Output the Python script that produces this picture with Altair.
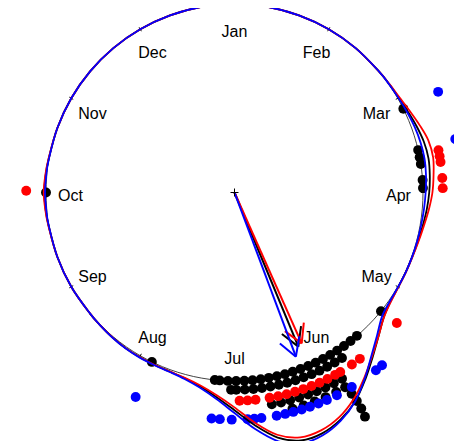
import math
import pandas as pd
import altair as alt

# ---------------- data ----------------
months = ["Jan", "Feb", "Mar", "Apr", "May", "Jun",
          "Jul", "Aug", "Sep", "Oct", "Nov", "Dec"]
month_angle = [0, 30, 60, 90, 120, 150, 180, 210, 240, 270, 300, 330]

# stacked observations: angle (deg, clockwise from top) and stacking radius
black_theta = [63.6, 77.0, 79.2, 81.3, 86.2, 88.6, 129.0,
               139.5, 142.0, 144.5, 147.0, 149.5, 152.0, 154.5, 157.0, 159.5, 162.0,
               164.5, 167.0, 169.5, 172.0, 174.5, 177.0, 179.5, 182.0, 184.5, 186.0,
               206.0, 270.0,
               147.0, 149.5, 152.0, 154.5, 157.0, 159.5, 162.0, 164.5, 167.0, 169.5,
               172.0, 174.5, 177.0, 179.5, 181.0,
               150.0, 152.5, 155.0, 157.5, 160.0, 162.5, 165.0, 167.5, 170.0,
               150.4, 153.0, 156.0, 159.0, 162.0, 165.0,
               149.8, 149.6, 149.6, 149.8]
black_r = [1.0] * 29 + [1.047] * 15 + [1.141] * 9 + [1.188] * 6 + [1.235, 1.282, 1.329, 1.376]

red_theta = [78.3, 80.0, 81.6, 86.0, 88.8, 128.8, 143.0, 145.7, 149.5,
             151.1, 153.5, 155.9, 158.3, 160.7, 163.1, 165.5, 167.9, 170.3,
             174.2, 176.4, 178.6, 270.5]
red_r = [1.105] * len(red_theta)

blue_theta = [63.7, 76.4, 139.5, 141.5, 148.9, 153.2,
              156.0, 158.3, 160.6, 162.8, 165.0, 167.1, 169.3,
              173.2, 175.0, 176.7, 180.7, 183.7, 185.8, 205.8]
blue_r = [1.205] * len(blue_theta)

# density curves (radius = 1 + value)
dens_theta = [0, 10, 20, 30, 40, 50, 55, 60, 65, 70, 75, 80, 85, 90, 95, 100, 105, 110,
              115, 120, 125, 130, 135, 140, 145, 150, 155, 160, 165, 170, 175, 180, 185,
              190, 195, 200, 205, 210, 215, 220, 225, 230, 240, 250, 260, 265, 270, 275,
              280, 290, 300, 310, 320, 330, 340, 350]
dens_black = [0, 0, 0, 0, 0, 0, 0.002, 0.006, 0.015, 0.028, 0.040, 0.045, 0.040, 0.033,
              0.024, 0.014, 0.007, 0.003, 0.002, 0.003, 0.010, 0.033, 0.080, 0.140, 0.210,
              0.280, 0.330, 0.360, 0.362, 0.320, 0.240, 0.155, 0.090, 0.045, 0.020, 0.010,
              0.008, 0.008, 0.008, 0.005, 0.002, 0, 0, 0, 0.002, 0.006, 0.009, 0.006,
              0.002, 0, 0, 0, 0, 0, 0, 0]
dens_red = [0, 0, 0, 0, 0, 0, 0.003, 0.010, 0.025, 0.045, 0.065, 0.070, 0.060, 0.050,
            0.035, 0.020, 0.010, 0.004, 0.003, 0.004, 0.012, 0.034, 0.080, 0.135, 0.200,
            0.265, 0.315, 0.343, 0.345, 0.305, 0.225, 0.140, 0.080, 0.040, 0.018, 0.010,
            0.008, 0.008, 0.008, 0.005, 0.002, 0, 0, 0, 0.003, 0.008, 0.012, 0.008,
            0.003, 0, 0, 0, 0, 0, 0, 0]
dens_blue = [0, 0, 0, 0, 0, 0, 0.001, 0.004, 0.010, 0.017, 0.022, 0.024, 0.020, 0.014,
             0.009, 0.005, 0.003, 0.002, 0.002, 0.002, 0.006, 0.022, 0.070, 0.130, 0.205,
             0.280, 0.335, 0.370, 0.378, 0.340, 0.260, 0.170, 0.100, 0.052, 0.024, 0.012,
             0.010, 0.010, 0.009, 0.006, 0.002, 0, 0, 0, 0.001, 0.003, 0.005, 0.003,
             0.001, 0, 0, 0, 0, 0, 0, 0]

# mean resultant vectors
mean_color = ["black", "red", "blue"]
mean_theta = [157.5, 156.0, 159.5]
mean_rho = [0.885, 0.876, 0.930]

# ---------------- layout ----------------
W, H = 446, 433
R_PX = 188.5
CX_PX = 234.5 - 8
CY_PX = 192.5 - 8
xdom = [-CX_PX / R_PX, (W - CX_PX) / R_PX]
ydom = [-(H - CY_PX) / R_PX, CY_PX / R_PX]


def pol(theta, r):
    a = math.radians(theta)
    return r * math.sin(a), r * math.cos(a)


X = alt.X("x:Q", scale=alt.Scale(domain=xdom, nice=False, zero=False), axis=None)
Y = alt.Y("y:Q", scale=alt.Scale(domain=ydom, nice=False, zero=False), axis=None)
X2 = alt.X2("x2:Q")
Y2 = alt.Y2("y2:Q")

# circle
circ = pd.DataFrame([dict(i=i, x=pol(t, 1.0)[0], y=pol(t, 1.0)[1])
                     for i, t in enumerate(dens_theta)])
circle = alt.Chart(circ).mark_line(interpolate="cardinal-closed", color="#444444",
                                   strokeWidth=1.0).encode(x=X, y=Y, order="i:Q")

# ticks
tk = []
for t in month_angle:
    a = pol(t, 0.988)
    b = pol(t, 1.012)
    tk.append(dict(x=a[0], y=a[1], x2=b[0], y2=b[1]))
ticks = alt.Chart(pd.DataFrame(tk)).mark_rule(color="black", strokeWidth=1.0).encode(
    x=X, y=Y, x2=X2, y2=Y2)

# labels
lab = pd.DataFrame([dict(m=m, x=pol(t, 0.87)[0], y=pol(t, 0.87)[1])
                    for m, t in zip(months, month_angle)])
labels = alt.Chart(lab).mark_text(font="Liberation Sans", fontSize=16, color="black",
                                  align="center", baseline="middle", dy=3).encode(
    x=X, y=Y, text="m:N")

# dots
pts = []
for col, th, rr in (("black", black_theta, black_r), ("red", red_theta, red_r),
                    ("blue", blue_theta, blue_r)):
    for t, r in zip(th, rr):
        x, y = pol(t, r)
        pts.append(dict(x=x, y=y, c=col, k=len(pts)))
dots = alt.Chart(pd.DataFrame(pts)).mark_circle(size=98, opacity=1).encode(
    x=X, y=Y, color=alt.Color("c:N", scale=None), order="k:Q")

# density lines
layers_d = []
for col, d in (("black", dens_black), ("red", dens_red), ("blue", dens_blue)):
    df = pd.DataFrame([dict(i=i, x=pol(t, 1 + v)[0], y=pol(t, 1 + v)[1])
                       for i, (t, v) in enumerate(zip(dens_theta, d))])
    layers_d.append(alt.Chart(df).mark_line(interpolate="cardinal-closed", color=col,
                                            strokeWidth=1.8).encode(x=X, y=Y, order="i:Q"))

# arrows
seg = []
L = 0.11
for col, t, rho in zip(mean_color, mean_theta, mean_rho):
    tx, ty = pol(t, rho)
    seg.append(dict(x=0, y=0, x2=tx, y2=ty, c=col))
    for s in (-30, 30):
        bx, by = pol(t + 180 + s, L)
        seg.append(dict(x=tx, y=ty, x2=tx + bx, y2=ty + by, c=col))
arrows = alt.Chart(pd.DataFrame(seg)).mark_rule(strokeWidth=2).encode(
    x=X, y=Y, x2=X2, y2=Y2, color=alt.Color("c:N", scale=None))

center = alt.Chart(pd.DataFrame([dict(x=0.0, y=0.0)])).mark_point(
    shape="M-1,0L1,0M0,-1L0,1", size=64, filled=False, color="black",
    strokeWidth=1, opacity=1).encode(x=X, y=Y)

chart = alt.layer(circle, ticks, labels, dots, *layers_d, arrows, center).properties(
    width=W, height=H, padding=0, autosize=alt.AutoSizeParams(type="none"),
    background="white"
).configure_view(stroke=None)

chart.save("out.html", embed_options={"renderer": "svg", "actions": False})
